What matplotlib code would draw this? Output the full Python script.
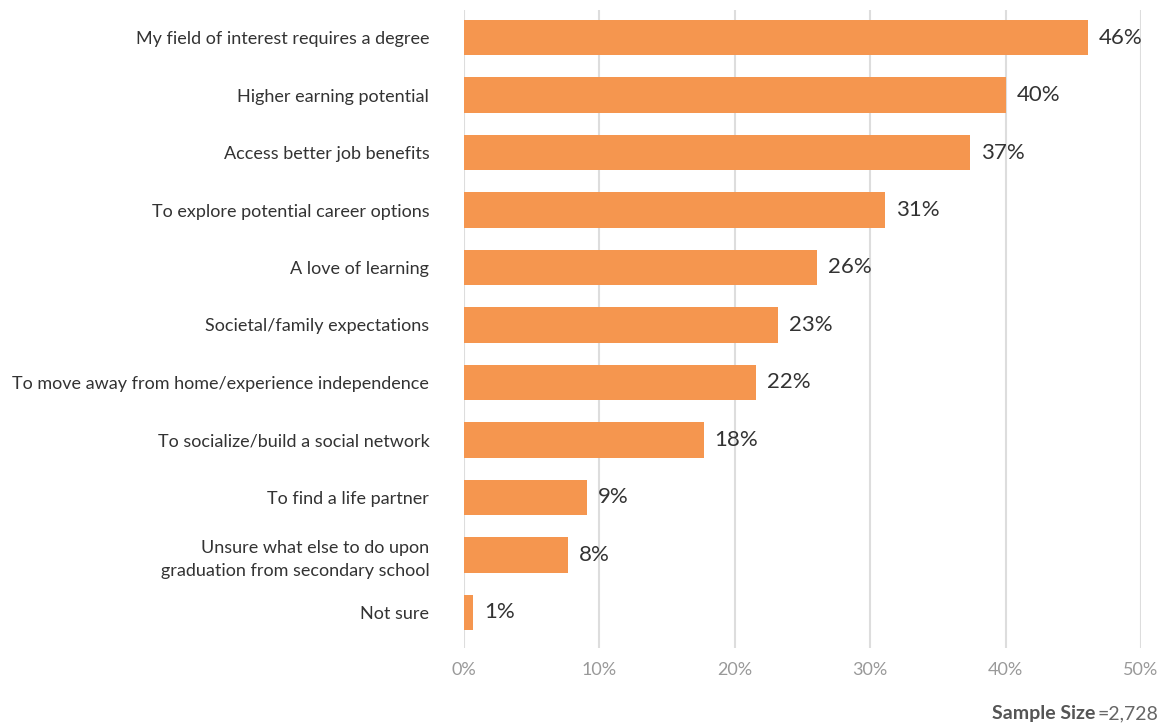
import matplotlib.pyplot as plt

categories = [
    "My field of interest requires a degree",
    "Higher earning potential",
    "Access better job benefits",
    "To explore potential career options",
    "A love of learning",
    "Societal/family expectations",
    "To move away from home/experience independence",
    "To socialize/build a social network",
    "To find a life partner",
    "Unsure what else to do upon\ngraduation from secondary school",
    "Not sure",
]
values = [46.1, 40.0, 37.4, 31.1, 26.1, 23.2, 21.6, 17.7, 9.1, 7.7, 0.7]
ticks = [0, 10, 20, 30, 40, 50]
sample_size = "2,728"

plt.rcParams['font.family'] = ['Lato', 'DejaVu Sans']

fig = plt.figure(figsize=(11.66, 7.24), dpi=100)
ax = fig.add_axes([464 / 1166, 1 - 648 / 724, (1141 - 464) / 1166, 638 / 724])

pos = list(range(len(categories)))
ax.barh(pos, values, height=0.62, color='#F5964F', zorder=3)
for y, v in zip(pos, values):
    ax.text(v + 0.8, y, f"{v:.0f}%", va='center', ha='left',
            fontsize=16, color='#333333')

ax.set_xlim(0, 50)
ax.set_ylim(10.62, -0.48)
ax.set_xticks(ticks)
ax.set_xticklabels([f"{t}%" for t in ticks], fontsize=13, color='#999999')
ax.set_yticks(pos)
ax.set_yticklabels(categories, fontsize=13, color='#333333', linespacing=1.5)
ax.tick_params(axis='y', length=0, pad=25)
ax.tick_params(axis='x', length=0, pad=10)
ax.grid(axis='x', color='#dddddd', linewidth=1.5, zorder=0)
for s in ax.spines.values():
    s.set_visible(False)

# footer: bold label followed by the sample count
ypos = 1 - 714 / 724
num = fig.text(1158 / 1166, ypos, "=" + sample_size, ha='right', va='center',
               fontsize=14, color='#666666')
fig.canvas.draw()
bb = num.get_window_extent()
fig.text((bb.x0 - 2) / 1166, ypos, "Sample Size", ha='right', va='center',
         fontsize=14, color='#555555', fontweight='bold')

fig.savefig('out.png', dpi=100)
